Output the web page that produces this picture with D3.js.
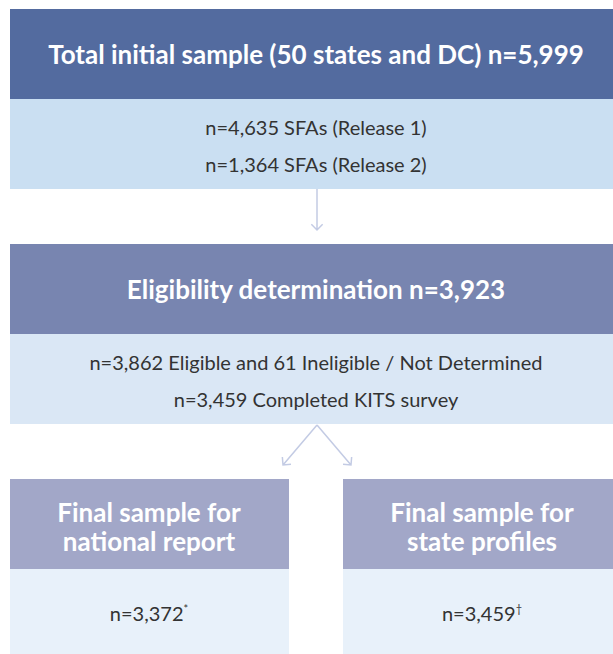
<!DOCTYPE html>
<html>
<head>
<meta charset="utf-8">
<script src="https://cdn.jsdelivr.net/npm/d3@7"></script>
<style>
  body { margin: 0; background: #fff; }
  svg { display: block; }
</style>
</head>
<body>
<div id="chart"></div>
<script>
// Flow stages
const stageTitles = [
    ["Total initial sample (50 states and DC) n=5,999"],
    ["Eligibility determination n=3,923"]
];
const stageDetails = [
    ["n=4,635 SFAs (Release 1)", "n=1,364 SFAs (Release 2)"],
    ["n=3,862 Eligible and 61 Ineligible / Not Determined", "n=3,459 Completed KITS survey"]
];
const finalTitles = [
    ["Final sample for", "national report"],
    ["Final sample for", "state profiles"]
];
const finalCounts = ["n=3,372", "n=3,459"];
const finalMarks = ["*", "\u2020"];

const headColors = ["#536b9f", "#7885b0", "#a2a7c8"];
const bodyColors = ["#cadff2", "#dae7f5", "#e8f1fa"];
const arrowColor = "#c3cbe4";

const W = 613, H = 654;
const left = 10;
const headH = 90, bodyH = 90;
const rowTop = [9, 244, 479];
const midX = 316;

const svg = d3.select("#chart").append("svg")
    .attr("width", W)
    .attr("height", H);

const font = "Lato, 'Noto Sans', sans-serif";

// full width stages
stageTitles.forEach((t, i) => {
    const g = svg.append("g").attr("transform", `translate(${left},${rowTop[i]})`);
    const w = W - left;
    g.append("rect").attr("width", w).attr("height", headH).attr("fill", headColors[i]);
    g.append("rect").attr("y", headH).attr("width", w).attr("height", bodyH).attr("fill", bodyColors[i]);
    g.append("text")
        .attr("x", midX - left).attr("y", headH / 2 + 10)
        .attr("text-anchor", "middle")
        .attr("fill", "#fff")
        .attr("font-family", font)
        .attr("font-weight", 700)
        .attr("font-size", 26)
        .text(t[0]);
    const ly = d3.scalePoint().domain(d3.range(stageDetails[i].length)).range([headH + 36, headH + 73]);
    g.selectAll("text.detail")
        .data(stageDetails[i])
        .enter().append("text")
        .attr("class", "detail")
        .attr("x", midX - left)
        .attr("y", (d, j) => ly(j))
        .attr("text-anchor", "middle")
        .attr("fill", "#333")
        .attr("font-family", font)
        .attr("font-size", 20)
        .text(d => d);
});

// final boxes
const boxX = d3.scaleOrdinal().domain([0, 1]).range([10, 343]);
const boxW = [279, 270];
const boxMid = [149, 482];
finalTitles.forEach((t, i) => {
    const g = svg.append("g").attr("transform", `translate(${boxX(i)},${rowTop[2]})`);
    g.append("rect").attr("width", boxW[i]).attr("height", headH).attr("fill", headColors[2]);
    g.append("rect").attr("y", headH).attr("width", boxW[i]).attr("height", H - rowTop[2] - headH).attr("fill", bodyColors[2]);
    const cx = boxMid[i] - boxX(i);
    g.selectAll("text.title")
        .data(t)
        .enter().append("text")
        .attr("class", "title")
        .attr("x", cx)
        .attr("y", (d, j) => 43 + j * 29)
        .attr("text-anchor", "middle")
        .attr("fill", "#fff")
        .attr("font-family", font)
        .attr("font-weight", 700)
        .attr("font-size", 26)
        .text(d => d);
    const txt = g.append("text")
        .attr("x", cx)
        .attr("y", headH + 52)
        .attr("text-anchor", "middle")
        .attr("fill", "#333")
        .attr("font-family", font)
        .attr("font-size", 20);
    txt.append("tspan").text(finalCounts[i]);
    txt.append("tspan")
        .attr("font-size", 11)
        .attr("dy", -8)
        .text(finalMarks[i]);
});

// arrows
function arrow(x1, y1, x2, y2) {
    const a = Math.atan2(y2 - y1, x2 - x1);
    const s = 8, spread = Math.PI / 4;
    const p = d3.path();
    p.moveTo(x1, y1);
    p.lineTo(x2, y2);
    p.moveTo(x2 - s * Math.cos(a - spread), y2 - s * Math.sin(a - spread));
    p.lineTo(x2, y2);
    p.lineTo(x2 - s * Math.cos(a + spread), y2 - s * Math.sin(a + spread));
    svg.append("path")
        .attr("d", p.toString())
        .attr("fill", "none")
        .attr("stroke", arrowColor)
        .attr("stroke-width", 1.5);
}
arrow(317, 189, 317, 230);
arrow(317, 425, 283, 465);
arrow(317, 425, 351, 465);
</script>
</body>
</html>
